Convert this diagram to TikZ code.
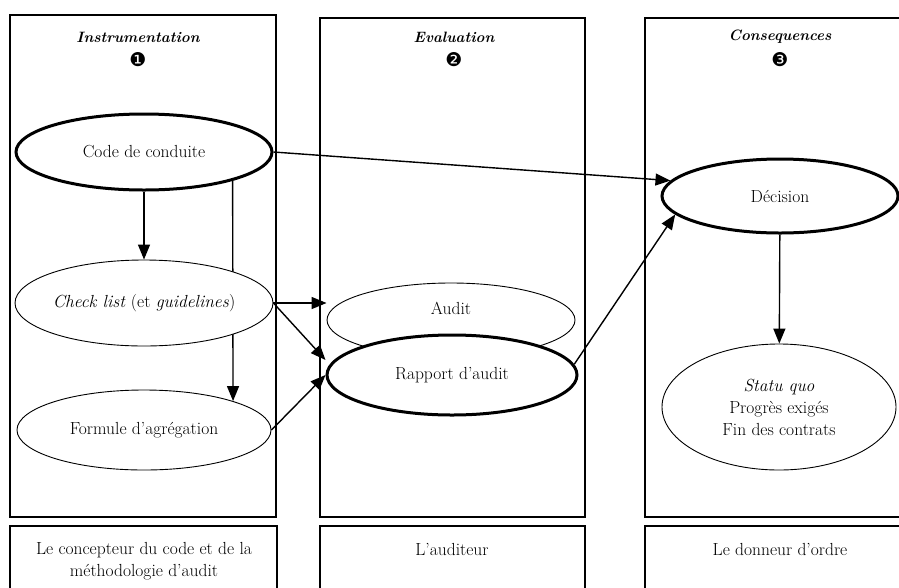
\documentclass[tikz,border=0pt]{standalone}
\usepackage{fontspec}
\newfontfamily\dingfont{DejaVu Sans}
\usetikzlibrary{shapes.geometric,arrows.meta,backgrounds}

\begin{document}
\begin{tikzpicture}[x=1pt,y=-1pt,
    every node/.style={font=\fontsize{17.5}{22}\selectfont},
    panel/.style={draw,line width=1.2pt},
    actor/.style={draw,line width=2pt},
    thinell/.style={ellipse,draw,fill=white,line width=.9pt,inner sep=0pt},
    thickell/.style={ellipse,draw,fill=white,line width=3pt,inner sep=0pt},
    title/.style={font=\fontsize{15}{18}\selectfont\bfseries\itshape},
    num/.style={font=\dingfont\fontsize{19}{21}\selectfont},
    arr/.style={line width=1.4pt,-{Triangle[length=15pt,width=12pt]}}]
    % Picture size
    \useasboundingbox (0,0) rectangle (899,587);
    \clip (0,0) rectangle (899,587);

    % Column centres
    \def\ca{144} % instrumentation
    \def\cb{452} % evaluation
    \def\cc{780} % consequences

    % Draw the three panels
    \draw[panel] (10,15) rectangle (276,517);
    \draw[panel] (320,18) rectangle (585,517);
    \draw[panel] (645,18) rectangle (915,517);

    % Boxes of the actors
    \draw[actor] (10,526) rectangle (277,600);
    \draw[actor] (320,526) rectangle (585,600);
    \draw[actor] (645,526) rectangle (915,600);

    % Titles of the panels
    \node[title] (t1) at (138,37) {Instrumentation};
    \node[num] (n1) at (138,60) {❶};
    \node[title] (t2) at (454,37) {Evaluation};
    \node[num] (n2) at (454,60) {❷};
    \node[title] (t3) at (\cc,37) {Consequences};
    \node[num] (n3) at (\cc,60) {❸};

    % Ellipses
    \node[thickell,minimum width=256,minimum height=76] (code) at (\ca,152) {Code de conduite};
    \node[thinell,minimum width=254,minimum height=86] (check) at (\ca,303) {\textit{Check list} (et \textit{guidelines})};
    \node[thinell,minimum width=254,minimum height=80] (formule) at (\ca,430) {Formule d’agrégation};
    \node[thinell,minimum width=248,minimum height=74] (audit) at (451,320) {};
    \node (audittxt) at (451,308) {Audit};
    \node[thickell,minimum width=250,minimum height=80] (rapport) at (\cb,375) {Rapport d’audit};
    \node[thickell,minimum width=236,minimum height=74] (decision) at (\cc,196) {Décision};
    \node[thinell,minimum width=234,minimum height=126,align=center] (suite) at (779,407)
        {\textit{Statu quo}\\Progrès exigés\\Fin des contrats};

    % Actors
    \node[align=center] (concepteur) at (\ca,561) {Le concepteur du code et de la\\méthodologie d’audit};
    \node (auditeur) at (\cb,549) {L’auditeur};
    \node (donneur) at (\cc,549) {Le donneur d’ordre};

    % Arrows
    \begin{scope}[on background layer]
        \draw[arr] (code.-18) -- (formule.18.5);
    \end{scope}
    \draw[arr] (code) -- (check);
    \draw[arr] (code.east) -- (decision.172);
    \draw[arr] (check.east) -- (check.east -| audit.west);
    \draw[arr] (check.east) -- ([yshift=15pt]rapport.west);
    \draw[arr] (formule.east) -- (rapport.west);
    \draw[arr] (rapport.5) -- (decision.190);
    \draw[arr] (decision) -- (suite);
\end{tikzpicture}
\end{document}
